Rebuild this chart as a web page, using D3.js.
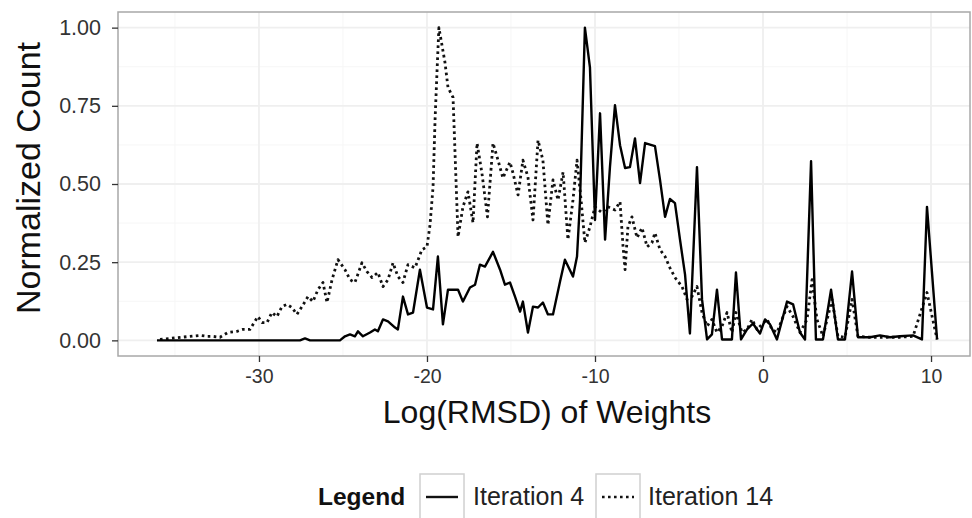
<!DOCTYPE html>
<html>
<head>
<meta charset="utf-8">
<script src="https://cdn.jsdelivr.net/npm/d3@7"></script>
<style>
  html, body { margin: 0; padding: 0; background: #fff; }
  svg { display: block; font-family: "Liberation Sans", Arial, Helvetica, sans-serif; }
</style>
</head>
<body>
<svg id="chart" width="972" height="518"></svg>
<script>
// ---- data ----
const xTicks = [-30, -20, -10, 0, 10];
const xTickLabels = ["-30", "-20", "-10", "0", "10"];
const yTicks = [0, 0.25, 0.5, 0.75, 1.0];
const yTickLabels = ["0.00", "0.25", "0.50", "0.75", "1.00"];
const seriesNames = ["Iteration 4", "Iteration 14"];

const iter4X = [-36.07, -27.56, -27.26, -26.96, -25.18, -24.88, -24.58, -24.29, -24.11, -23.81, -23.39, -23.10, -22.92, -22.62, -22.32, -21.90, -21.73, -21.43, -21.13, -20.83, -20.42, -20.00, -19.64, -19.35, -19.05, -18.75, -18.15, -17.86, -17.44, -17.14, -16.85, -16.55, -16.07, -15.65, -15.36, -15.06, -14.76, -14.46, -14.29, -13.99, -13.69, -13.39, -13.10, -12.80, -12.50, -12.08, -11.79, -11.31, -11.07, -10.89, -10.60, -10.30, -10.00, -9.70, -9.40, -9.11, -8.81, -8.51, -8.21, -7.92, -7.62, -7.32, -7.02, -6.43, -6.13, -5.83, -5.54, -5.24, -4.94, -4.64, -4.35, -3.93, -3.63, -3.33, -3.04, -2.74, -2.44, -1.85, -1.61, -1.31, -0.95, -0.60, -0.18, 0.12, 0.42, 0.83, 1.43, 1.79, 2.20, 2.50, 2.86, 3.15, 3.57, 4.05, 4.46, 4.88, 5.30, 5.65, 6.37, 6.96, 7.56, 8.15, 8.93, 9.46, 9.76, 10.36];
const iter4Y = [0, 0, 0.006, 0, 0, 0.013, 0.019, 0.013, 0.029, 0.013, 0.025, 0.035, 0.029, 0.067, 0.061, 0.041, 0.035, 0.140, 0.083, 0.089, 0.226, 0.105, 0.099, 0.268, 0.051, 0.162, 0.162, 0.124, 0.169, 0.178, 0.242, 0.236, 0.283, 0.226, 0.178, 0.185, 0.140, 0.092, 0.124, 0.025, 0.108, 0.105, 0.121, 0.083, 0.083, 0.188, 0.258, 0.204, 0.268, 0.449, 1.0, 0.873, 0.385, 0.726, 0.322, 0.554, 0.752, 0.624, 0.551, 0.554, 0.646, 0.503, 0.631, 0.621, 0.513, 0.395, 0.452, 0.439, 0.322, 0.210, 0.022, 0.554, 0.131, 0.003, 0.019, 0.162, 0.003, 0.003, 0.217, 0.003, 0.035, 0.054, 0.022, 0.067, 0.051, 0.003, 0.124, 0.115, 0.025, 0.003, 0.573, 0.003, 0.003, 0.162, 0.003, 0.003, 0.220, 0.010, 0.010, 0.016, 0.010, 0.013, 0.016, 0.003, 0.427, 0.003];

const iter14X = [-35.89, -33.51, -33.10, -32.80, -32.32, -31.85, -31.31, -30.95, -30.54, -30.24, -30.06, -29.82, -29.52, -29.23, -28.93, -28.63, -28.33, -28.04, -27.74, -27.44, -27.08, -26.79, -26.49, -26.19, -25.95, -25.65, -25.30, -24.88, -24.58, -24.29, -23.87, -23.57, -23.27, -22.92, -22.62, -22.32, -22.02, -21.73, -21.43, -21.13, -20.71, -20.30, -20.00, -19.82, -19.64, -19.52, -19.40, -19.29, -18.93, -18.75, -18.45, -18.33, -18.15, -17.86, -17.56, -17.26, -17.02, -16.73, -16.40, -16.07, -15.77, -15.48, -15.06, -14.88, -14.58, -14.29, -13.99, -13.69, -13.39, -13.10, -12.80, -12.50, -12.20, -11.90, -11.61, -11.31, -11.07, -10.83, -10.60, -10.30, -10.00, -9.58, -9.23, -8.81, -8.51, -8.33, -8.21, -8.04, -7.80, -7.50, -7.20, -6.90, -6.61, -6.43, -6.13, -5.83, -5.54, -5.24, -4.82, -4.52, -4.23, -3.93, -3.63, -3.33, -3.04, -2.74, -2.44, -2.14, -1.85, -1.61, -1.25, -0.95, -0.65, -0.36, -0.06, 0.24, 0.54, 0.83, 1.43, 1.79, 2.20, 2.62, 2.92, 3.21, 3.57, 4.11, 4.46, 4.88, 5.30, 5.65, 6.37, 6.96, 8.15, 8.93, 9.76, 10.36];
const iter14Y = [0.003, 0.016, 0.013, 0.013, 0.010, 0.025, 0.029, 0.035, 0.035, 0.061, 0.076, 0.057, 0.057, 0.089, 0.076, 0.108, 0.115, 0.105, 0.083, 0.108, 0.140, 0.124, 0.162, 0.185, 0.121, 0.194, 0.258, 0.226, 0.194, 0.185, 0.248, 0.220, 0.201, 0.217, 0.172, 0.194, 0.248, 0.204, 0.185, 0.242, 0.232, 0.290, 0.299, 0.369, 0.490, 0.704, 0.863, 1.0, 0.889, 0.809, 0.777, 0.599, 0.331, 0.427, 0.475, 0.376, 0.631, 0.535, 0.395, 0.631, 0.576, 0.519, 0.570, 0.535, 0.465, 0.576, 0.522, 0.385, 0.640, 0.576, 0.369, 0.513, 0.449, 0.538, 0.322, 0.449, 0.576, 0.449, 0.312, 0.363, 0.427, 0.408, 0.427, 0.417, 0.443, 0.299, 0.226, 0.363, 0.395, 0.328, 0.360, 0.299, 0.312, 0.344, 0.290, 0.268, 0.232, 0.201, 0.172, 0.131, 0.140, 0.172, 0.089, 0.045, 0.067, 0.025, 0.045, 0.089, 0.025, 0.089, 0.025, 0.035, 0.067, 0.035, 0.051, 0.067, 0.035, 0.025, 0.108, 0.076, 0.025, 0.067, 0.194, 0.067, 0.013, 0.131, 0.013, 0.010, 0.131, 0.013, 0.010, 0.010, 0.010, 0.013, 0.153, 0.003];

// ---- layout ----
const panel = { left: 118, right: 970, top: 12, bottom: 356 };
const svg = d3.select("#chart");

const x = d3.scaleLinear().domain([-38.39, 12.32]).range([panel.left, panel.right]);
const y = d3.scaleLinear().domain([-0.05, 1.05]).range([panel.bottom, panel.top]);

svg.append("rect")
  .attr("x", panel.left).attr("y", panel.top)
  .attr("width", panel.right - panel.left).attr("height", panel.bottom - panel.top)
  .attr("fill", "#fff");

// grid lines
const gGrid = svg.append("g");
const xMinor = xTicks.map(t => t - 5).concat([xTicks[xTicks.length - 1] + 5]).filter(v => x(v) > panel.left && x(v) < panel.right);
const yMinor = yTicks.slice(0, -1).map((t, i) => (t + yTicks[i + 1]) / 2);
gGrid.selectAll(".xminor").data(xMinor).join("line")
  .attr("x1", d => x(d)).attr("x2", d => x(d))
  .attr("y1", panel.top).attr("y2", panel.bottom)
  .attr("stroke", "#f6f6f6").attr("stroke-width", 1);
gGrid.selectAll(".yminor").data(yMinor).join("line")
  .attr("x1", panel.left).attr("x2", panel.right)
  .attr("y1", d => y(d)).attr("y2", d => y(d))
  .attr("stroke", "#f6f6f6").attr("stroke-width", 1);
gGrid.selectAll(".xmajor").data(xTicks).join("line")
  .attr("x1", d => x(d)).attr("x2", d => x(d))
  .attr("y1", panel.top).attr("y2", panel.bottom)
  .attr("stroke", "#efefef").attr("stroke-width", 1.8);
gGrid.selectAll(".ymajor").data(yTicks).join("line")
  .attr("x1", panel.left).attr("x2", panel.right)
  .attr("y1", d => y(d)).attr("y2", d => y(d))
  .attr("stroke", "#efefef").attr("stroke-width", 1.8);

// lines
const line = d3.line().x(d => x(d[0])).y(d => y(d[1]));
const d4 = iter4X.map((v, i) => [v, iter4Y[i]]);
const d14 = iter14X.map((v, i) => [v, iter14Y[i]]);

svg.append("path").datum(d14)
  .attr("d", line).attr("fill", "none")
  .attr("stroke", "#111").attr("stroke-width", 2.8)
  .attr("stroke-dasharray", "2.6,3.4").attr("stroke-linejoin", "round");
svg.append("path").datum(d4)
  .attr("d", line).attr("fill", "none")
  .attr("stroke", "#000").attr("stroke-width", 2.4).attr("stroke-linejoin", "round");

// panel border
svg.append("rect")
  .attr("x", panel.left).attr("y", panel.top)
  .attr("width", panel.right - panel.left).attr("height", panel.bottom - panel.top)
  .attr("fill", "none").attr("stroke", "#a8a8a8").attr("stroke-width", 1.5);

// axes
const xAxis = svg.append("g").attr("transform", `translate(0,${panel.bottom})`)
  .call(d3.axisBottom(x).tickValues(xTicks).tickSize(6).tickPadding(7)
    .tickFormat((d, i) => xTickLabels[i]));
xAxis.select(".domain").remove();
xAxis.selectAll(".tick line").attr("stroke", "#333").attr("stroke-width", 1.3);
xAxis.selectAll(".tick text").attr("fill", "#333").attr("font-size", 19.5)
  .attr("font-family", "Liberation Sans, Arial, sans-serif");

const yAxis = svg.append("g").attr("transform", `translate(${panel.left},0)`)
  .call(d3.axisLeft(y).tickValues(yTicks).tickSize(6).tickPadding(11)
    .tickFormat((d, i) => yTickLabels[i]));
yAxis.select(".domain").remove();
yAxis.selectAll(".tick line").attr("stroke", "#333").attr("stroke-width", 1.3);
yAxis.selectAll(".tick text").attr("fill", "#333").attr("font-size", 21.5)
  .attr("font-family", "Liberation Sans, Arial, sans-serif");

// axis titles
svg.append("text")
  .attr("x", (panel.left + panel.right) / 2 + 3).attr("y", 423)
  .attr("text-anchor", "middle").attr("font-size", 32).attr("fill", "#111")
  .text("Log(RMSD) of Weights");
svg.append("text")
  .attr("transform", `translate(40,178) rotate(-90)`)
  .attr("text-anchor", "middle").attr("font-size", 34).attr("fill", "#111")
  .text("Normalized Count");

// legend
const lg = svg.append("g");
lg.append("text").attr("x", 318).attr("y", 505)
  .attr("font-size", 24.5).attr("font-weight", "bold").attr("fill", "#111").text("Legend");
const keys = [
  { box: 420, text: 473, dash: null },
  { box: 596, text: 648, dash: "2.6,3.4" }
];
keys.forEach((k, i) => {
  lg.append("rect").attr("x", k.box).attr("y", 474).attr("width", 44).attr("height", 50)
    .attr("fill", "#fff").attr("stroke", "#d0d0d0").attr("stroke-width", 1.5);
  const l = lg.append("line").attr("x1", k.box + 6).attr("x2", k.box + 38)
    .attr("y1", 497).attr("y2", 497).attr("stroke", "#111").attr("stroke-width", 2.4);
  if (k.dash) l.attr("stroke-dasharray", k.dash);
  lg.append("text").attr("x", k.text).attr("y", 505)
    .attr("font-size", 25).attr("fill", "#222").text(seriesNames[i]);
});
</script>
</body>
</html>
